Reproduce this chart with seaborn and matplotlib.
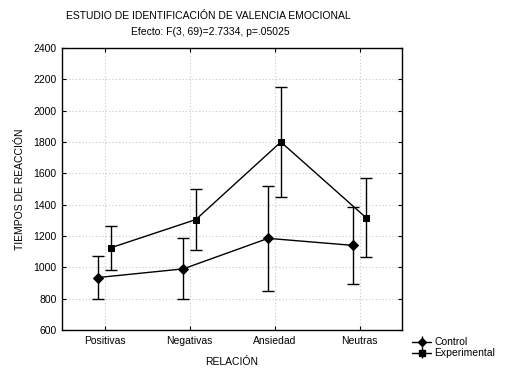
import numpy as np
import pandas as pd
import matplotlib
matplotlib.use("Agg")
import matplotlib.pyplot as plt
import seaborn as sns

categories = ["Positivas", "Negativas", "Ansiedad", "Neutras"]
control_mean = [935, 990, 1185, 1140]
control_err = [140, 195, 335, 245]
exper_mean = [1125, 1305, 1800, 1318]
exper_err = [140, 195, 350, 253]
groups = ["Control", "Experimental"]

sns.set_style("ticks")
plt.rcParams['font.family'] = ['Liberation Sans', 'DejaVu Sans']
plt.rcParams['text.color'] = 'black'
plt.rcParams['axes.labelcolor'] = 'black'
plt.rcParams['xtick.color'] = 'black'
plt.rcParams['ytick.color'] = 'black'

df = pd.DataFrame({
    "Relacion": categories * 2,
    "Tiempo": control_mean + exper_mean,
    "Grupo": ["Control"] * 4 + ["Experimental"] * 4,
})

fig = plt.figure(figsize=(5.05, 3.73), dpi=100)
ax = fig.add_axes([62 / 505, 1 - 330 / 373, 340 / 505, 282 / 373])

sns.pointplot(data=df, x="Relacion", y="Tiempo", hue="Grupo", order=categories,
              hue_order=groups, palette=["black", "black"], markers=["D", "s"],
              dodge=0.15, errorbar=None, linewidth=1.0, markersize=5,
              legend=False, ax=ax)

off = 0.075
xs = np.arange(len(categories))
ax.errorbar(xs - off, control_mean, yerr=control_err, fmt="none", ecolor="black",
            elinewidth=1.0, capsize=4, capthick=1.0)
ax.errorbar(xs + off, exper_mean, yerr=exper_err, fmt="none", ecolor="black",
            elinewidth=1.0, capsize=4, capthick=1.0)

ax.set_xlim(-0.5, 3.5)
ax.set_ylim(600, 2400)
ax.set_yticks(np.arange(600, 2401, 200))
ax.grid(True, color="#c8c8c8", linestyle=(0, (1, 2)), linewidth=0.8)
ax.tick_params(direction="in", top=True, right=True, labelsize=7.5, length=3,
               width=0.8, pad=4)
for s in ax.spines.values():
    s.set_linewidth(1.0)
    s.set_color("black")
ax.set_xlabel("RELACIÓN", fontsize=7.5, labelpad=8)
ax.set_ylabel("TIEMPOS DE REACCIÓN", fontsize=7.5, labelpad=6)

fig.text(0.412, 0.957, "ESTUDIO DE IDENTIFICACIÓN DE VALENCIA EMOCIONAL",
         ha="center", va="center", fontsize=7.5)
fig.text(0.416, 0.915, "Efecto: F(3, 69)=2.7334, p=.05025",
         ha="center", va="center", fontsize=7.5)

h1 = ax.errorbar([], [], yerr=[], fmt="-D", color="black", markersize=4.5, capsize=3, lw=1)
h2 = ax.errorbar([], [], yerr=[], fmt="-s", color="black", markersize=4.5, capsize=3, lw=1)
fig.legend([h1, h2], groups, loc="upper left", bbox_to_anchor=(405 / 505, 1 - 330 / 373),
           frameon=False, fontsize=7.5, handlelength=1.8, handletextpad=0.3,
           labelspacing=0.1, borderpad=0.2)

fig.savefig("out.png", dpi=100)
